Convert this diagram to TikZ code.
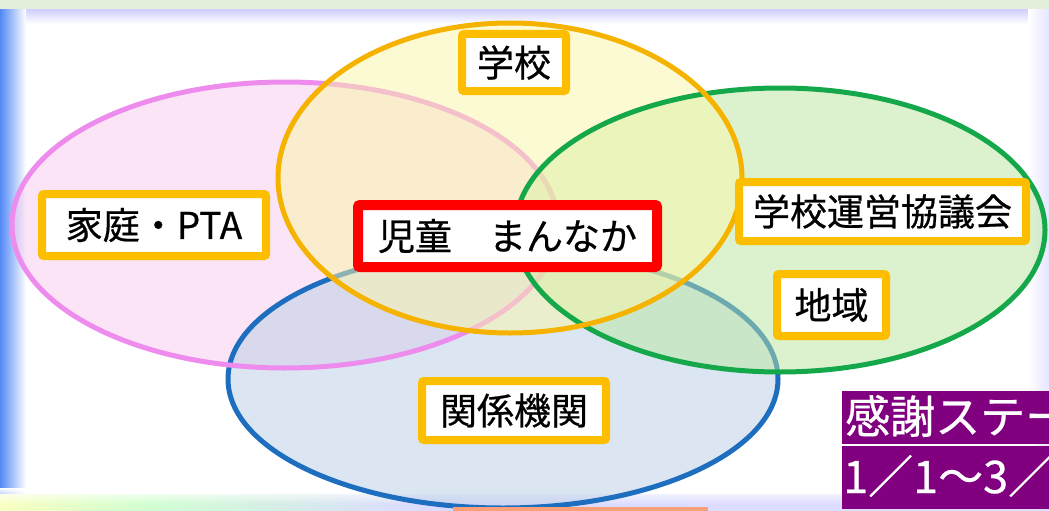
\documentclass[tikz,border=0pt]{standalone}
\usepackage{fontspec}
\newfontfamily\jp[FakeBold=0.6]{Noto Sans CJK JP}
\usetikzlibrary{fadings}
\definecolor{pinkF}{RGB}{247,203,239}
\definecolor{pinkL}{HTML}{EE8CEE}
\definecolor{yellowF}{RGB}{251,247,167}
\definecolor{orangeL}{HTML}{F5B300}
\definecolor{greenF}{RGB}{187,231,159}
\definecolor{greenL}{HTML}{14A84A}
\definecolor{blueF}{RGB}{185,207,231}
\definecolor{blueL}{HTML}{1E6EC0}
\definecolor{lblorange}{HTML}{FDBE00}
\definecolor{redbox}{HTML}{FF0000}
\definecolor{purplebox}{HTML}{800080}
\definecolor{topgreen}{HTML}{E4EFDB}
\definecolor{edgeblue}{HTML}{5289F4}
\definecolor{salmon}{HTML}{F9A07A}
\pgfdeclarehorizontalshading{rainbowband}{100bp}{color(0bp)=(white!60!edgeblue); color(6bp)=(pink!70!white); color(16bp)=(orange!25!white); color(24bp)=(yellow!25!white); color(32bp)=(green!18!white); color(45bp)=(blue!14!white); color(100bp)=(blue!12!white)}
\tikzset{
  ring/.style={line width=5pt},
  area/.style={fill opacity=0.5},
  lbl/.style={draw=lblorange, line width=8pt, fill=white, rounded corners=2pt,
    font=\jp\fontsize{37}{40}\selectfont, inner sep=0pt, text=black},
  centerlbl/.style={lbl, draw=redbox, line width=10pt},
  purplelbl/.style={fill=purplebox, inner sep=0pt, anchor=west},
  purpletext/.style={text=white, font=\jp\fontsize{45}{48}\selectfont, inner sep=0pt, anchor=west}
}
\begin{document}
\begin{tikzpicture}[x=1pt,y=-1pt]
\useasboundingbox (0,0) rectangle (1049,511);
\begin{scope}
\clip (0,0) rectangle (1049,511);
% background
\fill[white] (0,0) rectangle (1049,511);
\fill[topgreen] (0,0) rectangle (1049,10);
\shade[top color=blue!18!white, bottom color=white] (0,10) rectangle (1049,24);
\shade[left color=edgeblue, right color=white] (0,10) rectangle (26,505);
\shade[left color=white, right color=blue!10!white] (1028,10) rectangle (1049,505);
\shade[shading=rainbowband] (0,494) rectangle (1049,511);
\fill[white, path fading=south] (0,488) rectangle (1049,504);
% ellipses (translucent fills, layered)
\fill[pinkF, area] (285,225) ellipse [x radius=273, y radius=143];
\fill[blueF, area] (503,379) ellipse [x radius=275, y radius=129];
\draw[ring, blueL] (503,379) ellipse [x radius=275, y radius=129];
\draw[ring, pinkL] (285,225) ellipse [x radius=273, y radius=143];
\fill[greenF, area] (780,230) ellipse [x radius=265, y radius=142];
\fill[yellowF, area] (510,178) ellipse [x radius=232, y radius=155];
\draw[ring, greenL] (780,230) ellipse [x radius=265, y radius=142];
\draw[ring, orangeL] (510,178) ellipse [x radius=232, y radius=155];
% labels
\node[lbl, minimum width=104, minimum height=57] (school) at (514,62.5) {学校};
\node[lbl, minimum width=224, minimum height=62] (family) at (154,225) {家庭・PTA};
\node[centerlbl, minimum width=299, minimum height=62] (child) at (507.5,236) {児童　まんなか};
\node[lbl, minimum width=287, minimum height=59] (council) at (882.5,211.5) {学校運営協議会};
\node[lbl, minimum width=109, minimum height=62] (region) at (831.5,305) {地域};
\node[lbl, minimum width=184, minimum height=59] (agency) at (514,410.5) {関係機関};
% purple banners (cut off at the right edge, as in the reference)
\node[purplelbl, minimum width=210, minimum height=53] (banner1) at (842,417.5) {};
\node[purplelbl, minimum width=210, minimum height=63] (banner2) at (842,477.5) {};
\node[purpletext] (banner1text) at (845,416) {感謝ステー};
\node[purpletext] (banner2text) at (843,476) {1／1～3／};
% bottom salmon strip
\fill[salmon] (453,507) rectangle (708,511);
\end{scope}
\end{tikzpicture}
\end{document}
